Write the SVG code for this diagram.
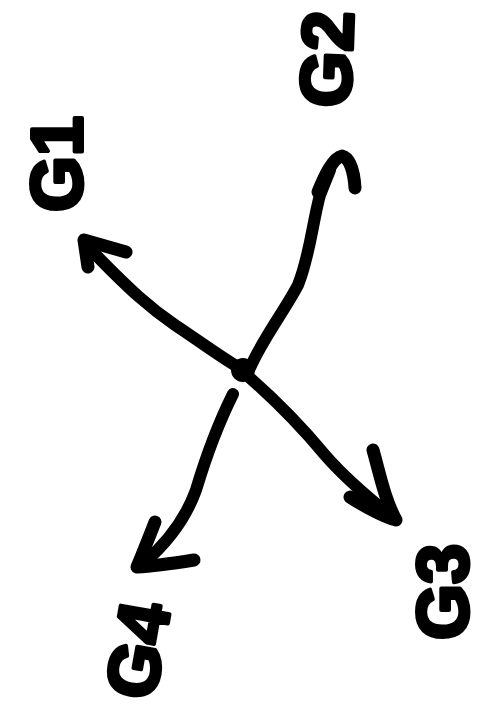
<svg xmlns="http://www.w3.org/2000/svg" width="490" height="709" viewBox="0 0 490 709">
<style>
.c{fill:none;stroke:#000;stroke-width:12;stroke-linecap:round;stroke-linejoin:round}
.h{fill:none;stroke:#000;stroke-width:13;stroke-linecap:round;stroke-linejoin:round}
.t{font-family:"Liberation Sans",Arial,sans-serif;font-weight:bold;font-size:72px;fill:#000;stroke:#000;stroke-width:4;stroke-linejoin:round}
</style>
<rect width="490" height="709" fill="#fff"/>
<g id="center"><circle cx="243" cy="370" r="12" fill="#000"/></g>
<g id="connectors">
<path class="c" d="M243,370 C225,360 205,345 175,325 C150,308 130,290 95,254"/>
<path class="h" d="M88,267 L84,240 L126,252"/>
<path class="c" d="M250,368 C262,340 285,310 298,285 C310,255 312,225 320,195 L330,170"/>
<path class="h" d="M318,192 C325,175 333,158 342,156 C350,158 354,172 355,188"/>
<path class="c" d="M250,378 C275,400 300,425 325,455 C345,478 365,495 390,515"/>
<path class="h" d="M373,450 C380,475 385,500 396,520 C385,517 365,507 350,497"/>
<path class="c" d="M233,394 C220,420 208,450 196,490 C186,518 170,540 145,562"/>
<path class="h" d="M155,522 C148,540 142,555 137,567 C155,566 175,563 194,560"/>
</g>
<g id="G1"><text class="t" transform="translate(82,212) rotate(-90)">G1</text></g>
<g id="G2"><text class="t" transform="translate(350,108) rotate(-88)">G2</text></g>
<g id="G3"><text class="t" transform="translate(468,640) rotate(-90)">G3</text></g>
<g id="G4"><text class="t" transform="translate(154,702) rotate(-80)">G4</text></g>
</svg>
